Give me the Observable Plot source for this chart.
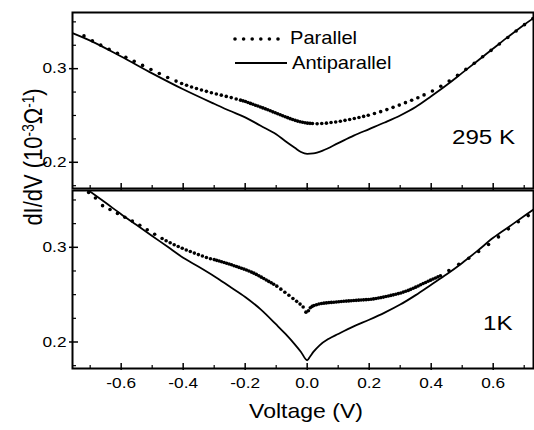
<!DOCTYPE html>
<html><head><meta charset="utf-8">
<script src="https://cdn.jsdelivr.net/npm/d3@7"></script>
<script src="https://cdn.jsdelivr.net/npm/@observablehq/plot@0.6"></script>
<style>
body{margin:0;background:#fff;}
#wrap{position:relative;width:534px;height:430px;overflow:hidden;font-family:"Liberation Sans",Arial,sans-serif;background:#fff;}
#wrap svg{position:absolute;left:0;}
</style></head><body><div id="wrap"></div>
<script>
// ---- axes ----
const xDomain = [-0.757, 0.73];
const yDomain = [0.172, 0.36];
const xMajorTicks = [-0.6, -0.4, -0.2, 0, 0.2, 0.4, 0.6];
const xMinorTicks = [-0.7, -0.5, -0.3, -0.1, 0.1, 0.3, 0.5, 0.7];
const yMajorTicks = [0.2, 0.3];
const yMinorTicks = [0.175, 0.225, 0.25, 0.275, 0.325, 0.35];
const panelLabels = ["295 K", "1K"];
const seriesNames = ["Parallel", "Antiparallel"];
const xTitle = "Voltage (V)";

// ---- 295 K panel ----
const topAntiV = [-0.757,-0.7,-0.6,-0.5,-0.4,-0.3,-0.25,-0.2,-0.15,-0.1,-0.07,-0.04,-0.02,0.0,0.02,0.05,0.1,0.15,0.2,0.25,0.3,0.35,0.4,0.45,0.5,0.55,0.6,0.65,0.7,0.73];
const topAntiG = [0.338,0.330,0.313,0.295,0.278,0.2625,0.255,0.248,0.239,0.230,0.2225,0.2155,0.211,0.209,0.2095,0.2125,0.2205,0.2285,0.2355,0.2425,0.250,0.259,0.2705,0.2825,0.2955,0.3085,0.3215,0.3345,0.347,0.354];

const topParV = [-0.72,-0.693,-0.666,-0.639,-0.612,-0.585,-0.558,-0.531,-0.504,-0.477,-0.45,-0.423,
 -0.405,-0.389,-0.373,-0.357,-0.341,-0.325,-0.309,-0.293,-0.277,-0.261,-0.245,-0.229,
 -0.215,-0.207,-0.199,-0.191,-0.183,-0.175,-0.167,-0.159,-0.151,-0.143,-0.135,-0.127,-0.119,-0.111,-0.103,-0.095,-0.087,-0.079,-0.071,-0.063,-0.055,-0.047,-0.039,-0.031,-0.023,-0.015,-0.007,0.001,0.009,0.017,
 0.032,0.047,0.062,0.077,0.092,0.107,0.122,0.137,0.152,0.167,0.182,0.197,
 0.217,0.237,0.257,0.277,0.297,0.317,0.337,0.357,0.377,
 0.404,0.431,0.458,0.485,0.512,0.539,0.566,0.593,0.62,0.647,0.674,0.701,0.728];
const topParG = [0.3350,0.3297,0.3251,0.3207,0.3164,0.3121,0.3078,0.3035,0.2991,0.2948,0.2905,0.2867,
 0.2841,0.2823,0.2805,0.2788,0.2772,0.2758,0.2743,0.2730,0.2717,0.2704,0.2691,0.2676,
 0.2664,0.2656,0.2649,0.2639,0.2629,0.2620,0.2610,0.2601,0.2591,0.2581,0.2571,0.2561,0.2550,0.2539,0.2529,0.2518,0.2508,0.2497,0.2487,0.2477,0.2466,0.2457,0.2448,0.2440,0.2433,0.2427,0.2422,0.2418,0.2416,0.2414,
 0.2412,0.2414,0.2418,0.2425,0.2431,0.2439,0.2448,0.2457,0.2467,0.2478,0.2490,0.2503,
 0.2521,0.2541,0.2563,0.2587,0.2611,0.2637,0.2663,0.2690,0.2720,
 0.2762,0.2812,0.2868,0.2928,0.2993,0.3058,0.3127,0.3195,0.3263,0.3333,0.3403,0.3470,0.3535];

// ---- 1 K panel ----
const botAntiV = [-0.705,-0.65,-0.6,-0.55,-0.5,-0.45,-0.4,-0.35,-0.3,-0.25,-0.2,-0.15,-0.1,-0.07,-0.04,-0.02,0.0,0.01,0.02,0.04,0.07,0.1,0.15,0.2,0.25,0.3,0.35,0.4,0.45,0.5,0.55,0.6,0.65,0.7,0.73];
const botAntiG = [0.360,0.347,0.335,0.3235,0.312,0.3005,0.289,0.2795,0.2695,0.2585,0.2475,0.2345,0.2185,0.2085,0.1975,0.1895,0.1807,0.185,0.1895,0.1965,0.2035,0.2085,0.2165,0.2235,0.231,0.2395,0.2495,0.2605,0.2715,0.2835,0.2965,0.310,0.3215,0.333,0.340];

const botParV = [-0.705,-0.683,-0.66,-0.636,-0.612,-0.588,-0.564,-0.54,-0.516,-0.492,-0.468,
 -0.455,-0.442,-0.429,-0.416,-0.403,-0.39,-0.377,-0.364,-0.351,-0.338,-0.325,-0.312,
 -0.3,-0.292,-0.284,-0.276,-0.268,-0.26,-0.252,-0.244,-0.236,-0.228,-0.22,-0.212,-0.204,-0.196,-0.188,-0.18,-0.172,-0.164,-0.156,-0.148,-0.14,-0.132,-0.124,-0.116,-0.108,
 -0.098,-0.085,-0.072,-0.059,-0.046,-0.034,-0.023,-0.013,-0.004,
 0.004,0.01,0.016,
 0.022,0.03,0.038,0.046,0.054,0.062,0.07,0.078,0.086,0.094,0.102,0.11,0.118,0.126,0.134,0.142,0.15,0.158,0.166,0.174,0.182,0.19,0.198,0.206,0.214,0.222,0.23,0.238,0.246,0.254,0.262,0.27,0.278,0.286,0.294,0.302,0.31,0.318,0.326,0.334,0.342,0.35,0.358,0.366,0.374,0.382,0.39,0.398,0.406,0.414,0.422,0.43,
 0.457,0.489,0.521,0.553,0.585,0.617,0.649,0.681,0.713];
const botParG = [0.3580,0.3520,0.3440,0.3400,0.3358,0.3318,0.3277,0.3233,0.3185,0.3138,0.3093,
 0.3070,0.3048,0.3027,0.3008,0.2990,0.2972,0.2955,0.2939,0.2923,0.2908,0.2893,0.2879,
 0.2870,0.2862,0.2855,0.2847,0.2840,0.2832,0.2824,0.2815,0.2806,0.2797,0.2788,0.2779,0.2770,0.2760,0.2749,0.2738,0.2727,0.2714,0.2700,0.2685,0.2670,0.2655,0.2640,0.2625,0.2610,
 0.2590,0.2558,0.2526,0.2493,0.2460,0.2429,0.2400,0.2370,0.2315,
 0.2330,0.2362,0.2376,
 0.2386,0.2394,0.2401,0.2406,0.2410,0.2413,0.2416,0.2418,0.2420,0.2422,0.2425,0.2427,0.2430,0.2432,0.2434,0.2436,0.2438,0.2440,0.2442,0.2443,0.2445,0.2447,0.2449,0.2452,0.2455,0.2459,0.2464,0.2469,0.2474,0.2480,0.2486,0.2492,0.2498,0.2505,0.2511,0.2518,0.2527,0.2536,0.2545,0.2556,0.2567,0.2579,0.2592,0.2605,0.2617,0.2629,0.2641,0.2653,0.2665,0.2676,0.2688,0.2700,
 0.2755,0.2820,0.2885,0.2955,0.3030,0.3110,0.3195,0.3270,0.3335];

const FONT = '"Liberation Sans", Arial, sans-serif';
const STRETCH = 1.15;

function panel({parV, parG, antiV, antiG, top, height, marginTop, marginBottom, xLabels}) {
  const W = 534, ml = 72, mr = 1;
  const pw = W - ml - mr, ph = height - marginTop - marginBottom;
  const par = parV.map((v, i) => ({v, g: parG[i]}));
  const anti = antiV.map((v, i) => ({v, g: antiG[i]}));
  const marks = [
    Plot.line(anti, {x: "v", y: "g", stroke: "#000", strokeWidth: 1.8, curve: "monotone-x", clip: true}),
    Plot.dot(par, {x: "v", y: "g", r: 1.8, fill: "#000", stroke: "none", clip: true}),
    Plot.tickY(yMajorTicks, {y: d => d, insetRight: pw - 6, insetLeft: -3, strokeWidth: 1.5}),
    Plot.tickY(yMinorTicks, {y: d => d, insetRight: pw - 4, strokeWidth: 1.2}),
    Plot.tickX(xMajorTicks, {x: d => d, insetTop: ph - 5, insetBottom: -2, strokeWidth: 1.5}),
    Plot.tickX(xMinorTicks, {x: d => d, insetTop: ph - 3, strokeWidth: 1.2}),
    Plot.axisY(yMajorTicks, {tickSize: 0, tickPadding: 6, tickFormat: d => d.toFixed(1), label: null, fontSize: 15}),
    Plot.frame({stroke: "#000", strokeWidth: 2})
  ];
  if (xLabels) marks.push(Plot.axisX(xMajorTicks, {tickSize: 0, tickPadding: 9, tickFormat: d => d.toFixed(1), label: null, fontSize: 15}));
  const svg = Plot.plot({
    width: W, height, marginLeft: ml, marginRight: mr, marginTop, marginBottom,
    x: {domain: xDomain, axis: xLabels ? undefined : null},
    y: {domain: yDomain},
    style: {fontFamily: FONT, fontSize: "15px", color: "#000", background: "transparent", overflow: "visible"},
    marks
  });
  svg.style.top = top + "px";
  svg.querySelectorAll('g[aria-label$="tick label"] text').forEach(t => {
    t.setAttribute("transform", (t.getAttribute("transform") || "") + ` scale(${STRETCH},1)`);
  });
  return svg;
}

const wrap = document.getElementById("wrap");
wrap.appendChild(panel({parV: botParV, parG: botParG, antiV: botAntiV, antiG: botAntiG, top: 180, height: 250, marginTop: 10, marginBottom: 62, xLabels: true}));
wrap.appendChild(panel({parV: topParV, parG: topParG, antiV: topAntiV, antiG: topAntiG, top: 0, height: 190, marginTop: 12, marginBottom: 2, xLabels: false}));

// ---- overlay: titles, legend, panel labels ----
const NS = "http://www.w3.org/2000/svg";
const ov = document.createElementNS(NS, "svg");
ov.setAttribute("width", 534); ov.setAttribute("height", 430);
ov.style.top = "0px";
ov.style.fontFamily = FONT;
wrap.appendChild(ov);
function txt(str, x, y, size, anchor = "start") {
  const t = document.createElementNS(NS, "text");
  t.setAttribute("transform", `translate(${x},${y}) scale(${STRETCH},1)`);
  t.setAttribute("font-size", size);
  t.setAttribute("text-anchor", anchor);
  t.setAttribute("fill", "#000");
  t.textContent = str;
  ov.appendChild(t);
  return t;
}
// legend
for (let i = 0; i < 6; i++) {
  const c = document.createElementNS(NS, "circle");
  c.setAttribute("cx", 235 + i * 8.6); c.setAttribute("cy", 39); c.setAttribute("r", 1.8);
  ov.appendChild(c);
}
const ln = document.createElementNS(NS, "line");
ln.setAttribute("x1", 235); ln.setAttribute("x2", 287); ln.setAttribute("y1", 63); ln.setAttribute("y2", 63);
ln.setAttribute("stroke", "#000"); ln.setAttribute("stroke-width", 1.8);
ov.appendChild(ln);
txt(seriesNames[0], 290, 43.5, 17.5);
txt(seriesNames[1], 292, 68.5, 17.5);
txt(panelLabels[0], 452, 144, 21);
txt(panelLabels[1], 483, 330, 21);
txt(xTitle, 306, 418, 20, "middle");
// y title with superscripts
const yt = document.createElementNS(NS, "text");
yt.setAttribute("transform", `translate(42,157) scale(${STRETCH},1) rotate(-90)`);
yt.setAttribute("font-size", 22);
yt.setAttribute("text-anchor", "middle");
const parts = [["dI/dV (10", 0], ["-3", 1], ["Ω", 0], ["-1", 1], [")", 0]];
let raised = false;
parts.forEach(([s, sup]) => {
  const ts = document.createElementNS(NS, "tspan");
  ts.textContent = s;
  if (sup) {
    ts.setAttribute("font-size", "0.62em");
    if (!raised) { ts.setAttribute("dy", "-0.5em"); raised = true; }
  } else if (raised) {
    ts.setAttribute("dy", "0.31em"); raised = false;
  }
  yt.appendChild(ts);
});
ov.appendChild(yt);
</script></body></html>
